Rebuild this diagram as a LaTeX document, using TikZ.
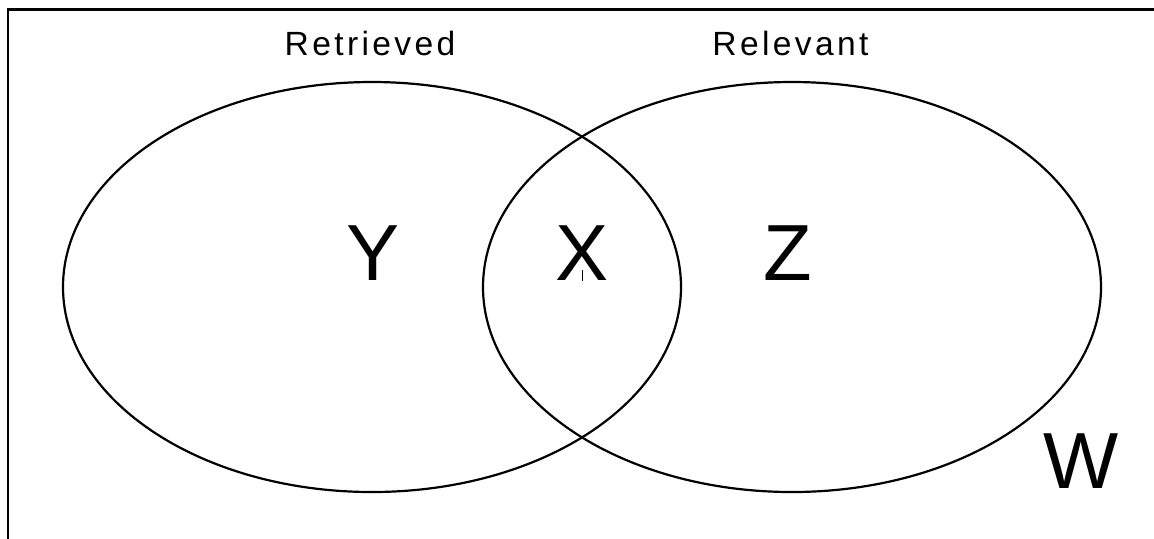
\documentclass[tikz,border=0pt]{standalone}
\usepackage{fontspec}
\setmainfont{Liberation Sans}
\newfontfamily\spacedfont[LetterSpace=10]{Liberation Sans}

\begin{document}
\begin{tikzpicture}[x=0.5pt,y=-0.5pt,
    setlabel/.style={anchor=base, inner sep=0pt, font=\spacedfont\fontsize{16.8}{20}\selectfont},
    regionlabel/.style={anchor=base, inner sep=0pt, font=\fontsize{39.8}{48}\selectfont}]
    \useasboundingbox (0,0) rectangle (1154,538);
    \clip (0,0) rectangle (1154,538);

    \coordinate (A) at (372,287);
    \coordinate (B) at (792,287);
    \coordinate (C) at (8,9.5);
    \coordinate (D) at (1180,560);

    \draw [line width=1.3pt] (C) rectangle (D);

    \draw [line width=1.1pt] (A) ellipse [x radius=309, y radius=205];
    \draw [line width=1.1pt] (B) ellipse [x radius=309, y radius=205];

    \node[setlabel] (ret) at (370,55) {Retrieved};
    \node[setlabel] (rel) at (790.5,55) {Relevant};

    \node[regionlabel] (y) at (373,280) {Y};
    \node[regionlabel] (x) at (582,280) {X};
    \node[regionlabel] (z) at (788,280) {Z};
    \node[regionlabel] (w) at (1081,488) {W};

    \draw [line width=0.4pt] (582,270) -- (582,281);
\end{tikzpicture}
\end{document}
